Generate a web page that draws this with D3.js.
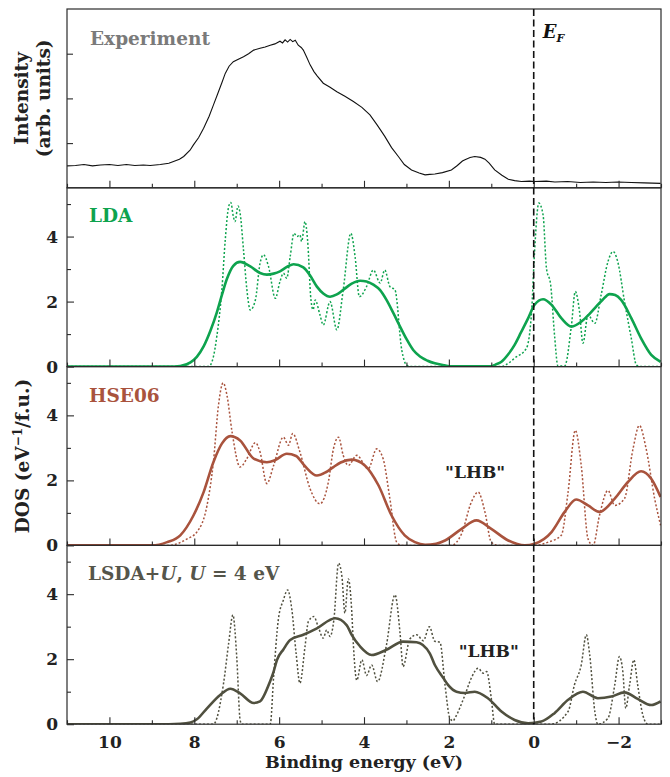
<!DOCTYPE html>
<html><head><meta charset="utf-8">
<script src="https://cdn.jsdelivr.net/npm/d3@7"></script>
<style>
html,body{margin:0;padding:0;background:#fff;}
svg text{font-family:"DejaVu Serif",serif;font-weight:bold;}
</style></head>
<body><svg id="c" width="670" height="777"></svg>
<script>
// Binding energy (eV) vs intensity / DOS
const xTickLabels = [10, 8, 6, 4, 2, 0, -2];
const dosTickLabels = [0, 2, 4];
const panelNames = ["Experiment", "LDA", "HSE06", "LSDA+U"];

const experiment = [[11.0,0.49],[10.8,0.50],[10.6,0.52],[10.4,0.49],[10.21,0.51],[10.0,0.52],[9.8,0.50],[9.6,0.52],[9.4,0.50],[9.2,0.51],[9.04,0.50],[8.8,0.52],[8.6,0.55],[8.49,0.59],[8.35,0.64],[8.25,0.70],[8.1,0.84],[8.02,0.96],[7.9,1.12],[7.78,1.33],[7.65,1.6],[7.55,1.85],[7.45,2.1],[7.35,2.35],[7.27,2.56],[7.18,2.72],[7.08,2.82],[6.95,2.88],[6.84,2.93],[6.72,3.0],[6.60,3.08],[6.45,3.12],[6.33,3.15],[6.21,3.19],[6.1,3.22],[5.98,3.28],[5.92,3.24],[5.86,3.31],[5.80,3.26],[5.74,3.32],[5.68,3.27],[5.62,3.30],[5.55,3.19],[5.48,3.14],[5.43,3.08],[5.35,2.92],[5.27,2.75],[5.18,2.6],[5.1,2.5],[4.96,2.34],[4.8,2.25],[4.64,2.15],[4.45,2.05],[4.25,1.93],[4.05,1.8],[3.86,1.63],[3.7,1.42],[3.6,1.28],[3.51,1.15],[3.35,0.9],[3.19,0.70],[3.05,0.52],[2.88,0.40],[2.7,0.33],[2.56,0.29],[2.45,0.30],[2.33,0.31],[2.15,0.34],[1.94,0.40],[1.8,0.50],[1.68,0.60],[1.62,0.63],[1.5,0.68],[1.39,0.70],[1.25,0.68],[1.15,0.64],[1.05,0.55],[0.92,0.40],[0.75,0.28],[0.60,0.19],[0.45,0.16],[0.29,0.14],[0.1,0.15],[-0.02,0.14],[-0.3,0.15],[-0.5,0.13],[-0.8,0.14],[-1.1,0.12],[-1.4,0.13],[-1.7,0.12],[-1.98,0.13],[-2.3,0.12],[-2.6,0.11],[-2.99,0.10]];

const ldaTotal = [[11,0],[8.6,0],[8.33,0.02],[8.09,0.13],[7.94,0.3],[7.78,0.62],[7.62,1.1],[7.47,1.66],[7.35,2.2],[7.23,2.70],[7.08,3.1],[6.92,3.22],[6.68,3.08],[6.45,2.88],[6.29,2.83],[6.13,2.86],[5.98,2.93],[5.80,3.08],[5.66,3.15],[5.43,3.05],[5.27,2.8],[5.11,2.46],[4.96,2.25],[4.80,2.15],[4.64,2.22],[4.49,2.36],[4.29,2.55],[4.09,2.64],[3.94,2.62],[3.78,2.52],[3.62,2.35],[3.47,2.05],[3.31,1.65],[3.15,1.23],[3.0,0.85],[2.84,0.51],[2.68,0.31],[2.50,0.18],[2.33,0.10],[2.1,0.04],[1.95,0.01],[1.0,0.01],[0.9,0.06],[0.76,0.15],[0.6,0.38],[0.45,0.67],[0.3,1.05],[0.13,1.49],[-0.02,1.90],[-0.22,2.07],[-0.42,1.90],[-0.65,1.49],[-0.89,1.23],[-1.12,1.38],[-1.3,1.6],[-1.44,1.80],[-1.62,2.05],[-1.79,2.23],[-1.92,2.2],[-2.06,2.05],[-2.30,1.49],[-2.53,0.87],[-2.77,0.36],[-2.99,0.15]];
const ldaPartial = [[11,0],[7.7,0],[7.62,0.05],[7.55,0.3],[7.47,0.92],[7.35,2.36],[7.27,3.9],[7.19,4.92],[7.14,5.05],[7.08,4.62],[7.04,4.46],[6.97,4.94],[6.92,4.72],[6.84,3.59],[6.76,2.36],[6.68,1.74],[6.56,2.05],[6.45,3.18],[6.37,3.44],[6.25,3.08],[6.09,2.10],[5.98,2.62],[5.90,2.87],[5.82,2.72],[5.74,3.38],[5.65,4.10],[5.58,4.00],[5.51,4.05],[5.47,3.85],[5.39,4.46],[5.33,3.90],[5.25,2.05],[5.20,1.75],[5.15,2.05],[5.04,1.6],[4.96,1.28],[4.80,2.0],[4.64,1.13],[4.49,2.36],[4.31,4.10],[4.21,3.38],[4.11,2.15],[3.94,2.46],[3.78,2.97],[3.62,2.57],[3.51,2.97],[3.39,2.46],[3.27,2.36],[3.11,0.51],[3.00,0.05],[2.9,0],[0.76,0],[0.6,0.1],[0.45,0.26],[0.17,0.57],[0.05,1.69],[-0.02,3.54],[-0.12,5.03],[-0.22,4.67],[-0.30,3.03],[-0.40,2.51],[-0.49,0.98],[-0.57,0.02],[-0.73,0.02],[-0.89,1.28],[-0.98,2.31],[-1.08,1.69],[-1.16,0.72],[-1.28,1.59],[-1.44,1.33],[-1.59,2.21],[-1.75,3.23],[-1.87,3.54],[-1.98,3.23],[-2.14,2.0],[-2.30,0.87],[-2.42,0.05],[-2.5,0],[-2.99,0]];

const hseTotal = [[11,0],[9.0,0],[8.64,0.10],[8.33,0.31],[8.02,0.92],[7.78,1.64],[7.55,2.56],[7.35,3.13],[7.15,3.36],[6.92,3.23],[6.60,2.67],[6.29,2.56],[6.1,2.62],[5.82,2.82],[5.6,2.75],[5.40,2.45],[5.11,2.15],[4.9,2.25],[4.72,2.41],[4.55,2.55],[4.29,2.64],[3.98,2.46],[3.66,1.85],[3.35,0.92],[3.04,0.31],[2.8,0.1],[2.56,0.02],[2.3,0.05],[2.09,0.15],[1.70,0.51],[1.35,0.77],[1.00,0.51],[0.60,0.15],[0.21,0.0],[-0.02,0.05],[-0.42,0.41],[-0.73,1.03],[-1.00,1.41],[-1.28,1.23],[-1.55,1.03],[-1.91,1.44],[-2.22,1.95],[-2.53,2.28],[-2.77,2.05],[-2.99,1.49]];
const hsePartial = [[11,0],[8.6,0],[8.17,0.2],[7.94,0.41],[7.70,1.23],[7.55,2.56],[7.43,4.31],[7.32,5.0],[7.23,4.62],[7.11,3.49],[6.92,2.41],[6.76,2.67],[6.56,3.16],[6.45,2.87],[6.29,1.90],[6.13,2.46],[5.90,3.33],[5.78,3.08],[5.68,3.44],[5.51,2.87],[5.27,1.74],[5.04,1.28],[4.84,1.95],[4.72,2.97],[4.60,3.33],[4.49,2.77],[4.37,2.46],[4.17,2.77],[3.90,2.36],[3.70,2.97],[3.55,2.67],[3.39,1.44],[3.23,0.1],[3.11,0],[1.94,0],[1.70,0.36],[1.47,1.33],[1.31,1.64],[1.15,1.03],[1.00,0.1],[0.84,0],[-0.02,0],[-0.34,0.1],[-0.65,0.31],[-0.81,1.64],[-0.98,3.54],[-1.12,2.46],[-1.28,0.2],[-1.40,0],[-1.55,0.92],[-1.75,1.69],[-1.91,1.23],[-2.14,1.44],[-2.34,2.97],[-2.49,3.69],[-2.65,2.97],[-2.85,1.44],[-2.99,0.62]];

const lsdaTotal = [[11,0],[8.6,0],[8.33,0.01],[8.09,0.05],[7.94,0.15],[7.70,0.49],[7.39,0.9],[7.15,1.09],[6.92,0.95],[6.60,0.65],[6.45,0.7],[6.37,0.85],[6.25,1.2],[6.13,1.62],[6.05,1.98],[5.90,2.3],[5.74,2.59],[5.43,2.75],[5.11,2.95],[4.68,3.26],[4.41,3.05],[4.29,2.75],[4.09,2.39],[3.82,2.13],[3.47,2.29],[3.08,2.54],[2.76,2.52],[2.45,2.18],[2.33,1.82],[2.13,1.42],[2.02,1.21],[1.82,1.0],[1.62,0.96],[1.39,1.0],[1.08,0.8],[0.76,0.39],[0.45,0.13],[0.13,0.03],[-0.18,0.08],[-0.49,0.34],[-0.81,0.75],[-1.16,1.0],[-1.51,0.8],[-1.83,0.85],[-2.14,0.98],[-2.45,0.78],[-2.77,0.59],[-2.99,0.70]];
const lsdaPartial = [[11,0],[7.55,0],[7.31,1.26],[7.19,2.49],[7.09,3.36],[7.00,2.08],[6.92,0.13],[6.88,0],[6.21,0],[6.13,1.46],[6.02,3.21],[5.90,3.82],[5.80,4.13],[5.70,3.52],[5.60,2.18],[5.51,1.26],[5.39,2.39],[5.31,3.16],[5.18,3.31],[5.08,3.0],[4.96,2.65],[4.88,2.90],[4.80,2.70],[4.71,3.21],[4.60,4.95],[4.52,4.54],[4.45,3.42],[4.37,4.47],[4.29,3.5],[4.25,2.44],[4.17,1.35],[4.05,1.98],[3.94,1.5],[3.82,1.82],[3.68,1.31],[3.47,2.44],[3.27,3.98],[3.15,2.8],[3.08,1.77],[2.92,2.62],[2.76,2.75],[2.60,2.57],[2.46,3.0],[2.33,2.55],[2.21,2.52],[2.09,1.2],[1.98,0.2],[1.9,0.1],[1.86,0.18],[1.62,0.9],[1.47,1.42],[1.31,1.72],[1.19,1.57],[1.11,1.62],[1.00,0.8],[0.92,0],[-0.4,0],[-0.81,0.39],[-0.96,1.21],[-1.12,1.82],[-1.24,2.75],[-1.32,2.13],[-1.44,0.39],[-1.51,0],[-1.75,0.18],[-1.91,1.21],[-2.02,2.08],[-2.10,1.62],[-2.17,0.49],[-2.26,1.21],[-2.36,1.98],[-2.45,1.21],[-2.57,0.29],[-2.69,0],[-2.99,0]];

const svg = d3.select("#c");
const L = 67, R = 661, T = 9, PH = 178.8;
const x = d3.scaleLinear().domain([11, -3]).range([L, R]);
const panelTop = i => T + i * PH;

const yExp = d3.scaleLinear().domain([0, 4]).range([panelTop(1), panelTop(0)]);
const yDos = i => d3.scaleLinear().domain([0, 5.5]).range([panelTop(i + 1), panelTop(i)]);

const defs = svg.append("defs");
for (let i = 0; i < 4; i++) {
  defs.append("clipPath").attr("id", "clip" + i).append("rect")
    .attr("x", L).attr("y", panelTop(i)).attr("width", R - L).attr("height", PH);
}

const ink = "#2b2b2b";
const majors = d3.range(-2, 11, 2), minors = d3.range(-3, 12, 2);

function bottomTicks(i, labels) {
  const g = svg.append("g").attr("transform", `translate(0,${panelTop(i + 1)})`);
  g.call(d3.axisBottom(x).tickValues(minors).tickSize(-4).tickFormat(""));
  const gm = svg.append("g").attr("transform", `translate(0,${panelTop(i + 1)})`);
  gm.call(d3.axisBottom(x).tickValues(majors).tickSize(-7).tickPadding(12)
    .tickFormat(labels ? d3.format("d") : ""));
  [g, gm].forEach(s => {
    s.select(".domain").remove();
    s.selectAll("line").attr("stroke", ink).attr("stroke-width", 1.1);
    s.selectAll("text").attr("font-size", 17).attr("fill", "#222")
      .attr("font-family", "DejaVu Serif").attr("font-weight", "bold");
  });
}

// line generators
function lineFor(y, curve) {
  return d3.line().x(d => x(d[0])).y(d => y(d[1])).curve(curve);
}

// Experiment panel
{
  const g = svg.append("g").attr("transform", `translate(${L},0)`);
  g.call(d3.axisLeft(yExp).tickValues([1, 2, 3]).tickSize(-6).tickFormat(""));
  g.select(".domain").remove();
  g.selectAll("line").attr("stroke", ink).attr("stroke-width", 1.1);
  svg.append("path").datum(experiment).attr("clip-path", "url(#clip0)")
    .attr("d", lineFor(yExp, d3.curveLinear))
    .attr("fill", "none").attr("stroke", "#111").attr("stroke-width", 1.1);
  bottomTicks(0, false);
  svg.append("text").attr("x", 90).attr("y", 45).attr("font-size", 18.5)
    .attr("fill", "#7a7a7a").text(panelNames[0]);
}

const dosPanels = [
  {i: 1, total: ldaTotal, partial: ldaPartial, color: "#0ea34e", label: "LDA"},
  {i: 2, total: hseTotal, partial: hsePartial, color: "#a9533d", label: "HSE06"},
  {i: 3, total: lsdaTotal, partial: lsdaPartial, color: "#50503f", label: "LSDA"}
];

dosPanels.forEach(p => {
  const y = yDos(p.i);
  const gl = svg.append("g").attr("transform", `translate(${L},0)`);
  gl.call(d3.axisLeft(y).tickValues([1, 3, 5]).tickSize(-4).tickFormat(""));
  const gm = svg.append("g").attr("transform", `translate(${L},0)`);
  gm.call(d3.axisLeft(y).tickValues(dosTickLabels).tickSize(-7).tickPadding(9).tickFormat(d3.format("d")));
  [gl, gm].forEach(s => {
    s.select(".domain").remove();
    s.selectAll("line").attr("stroke", ink).attr("stroke-width", 1.1);
    s.selectAll("text").attr("font-size", 17).attr("fill", "#222")
      .attr("font-family", "DejaVu Serif").attr("font-weight", "bold");
  });
  svg.append("path").datum(p.partial).attr("clip-path", `url(#clip${p.i})`)
    .attr("d", lineFor(y, d3.curveMonotoneX))
    .attr("fill", "none").attr("stroke", p.color).attr("stroke-width", 1.5)
    .attr("stroke-dasharray", "2,2");
  svg.append("path").datum(p.total).attr("clip-path", `url(#clip${p.i})`)
    .attr("d", lineFor(y, d3.curveMonotoneX))
    .attr("fill", "none").attr("stroke", p.color).attr("stroke-width", 2.6);
  bottomTicks(p.i, p.i === 3);
});

// panel labels
svg.append("text").attr("x", 89).attr("y", 222).attr("font-size", 18.5)
  .attr("fill", "#0ea34e").text(panelNames[1]);
svg.append("text").attr("x", 89).attr("y", 402).attr("font-size", 18.5)
  .attr("fill", "#a9533d").text(panelNames[2]);
{
  const t = svg.append("text").attr("x", 88).attr("y", 580).attr("font-size", 18.5).attr("fill", "#55554a");
  t.append("tspan").text("LSDA+");
  t.append("tspan").attr("font-style", "italic").text("U");
  t.append("tspan").text(", ");
  t.append("tspan").attr("font-style", "italic").text("U");
  t.append("tspan").text(" = 4 eV");
}
svg.append("text").attr("x", x(1.38)).attr("y", 478).attr("text-anchor", "middle")
  .attr("font-size", 17).attr("fill", "#222").text("\"LHB\"");
svg.append("text").attr("x", x(1.06)).attr("y", 657).attr("text-anchor", "middle")
  .attr("font-size", 17).attr("fill", "#222").text("\"LHB\"");

// frames
for (let i = 0; i < 4; i++) {
  svg.append("rect").attr("x", L).attr("y", panelTop(i)).attr("width", R - L).attr("height", PH)
    .attr("fill", "none").attr("stroke", ink).attr("stroke-width", 1.2);
}

// Fermi level
svg.append("line").attr("x1", x(0)).attr("x2", x(0)).attr("y1", panelTop(0)).attr("y2", panelTop(4))
  .attr("stroke", "#111").attr("stroke-width", 1.6).attr("stroke-dasharray", "7,3.5");
{
  const t = svg.append("text").attr("x", x(0) + 9).attr("y", 38).attr("font-size", 18)
    .attr("font-style", "italic").attr("fill", "#111");
  t.append("tspan").text("E");
  t.append("tspan").attr("font-size", 11).attr("dy", 4).text("F");
}

// axis titles
{
  const cy = (panelTop(0) + panelTop(1)) / 2;
  const t = svg.append("text").attr("transform", `translate(28,${cy}) rotate(-90)`)
    .attr("text-anchor", "middle").attr("font-size", 18.5).attr("fill", "#222");
  t.append("tspan").attr("x", 0).attr("y", 0).text("Intensity");
  t.append("tspan").attr("x", 0).attr("y", 22).text("(arb. units)");
}
{
  const cy = (panelTop(2) + panelTop(3)) / 2;
  const t = svg.append("text").attr("transform", `translate(29,${cy}) rotate(-90)`)
    .attr("text-anchor", "middle").attr("font-size", 18.5).attr("fill", "#222");
  t.append("tspan").text("DOS (eV");
  t.append("tspan").attr("font-size", 12).attr("dy", -7).text("\u22121");
  t.append("tspan").attr("dy", 7).text("/f.u.)");
}
svg.append("text").attr("x", (L + R) / 2).attr("y", 768).attr("text-anchor", "middle")
  .attr("font-size", 17.5).attr("fill", "#222").text("Binding energy (eV)");
</script></body></html>
